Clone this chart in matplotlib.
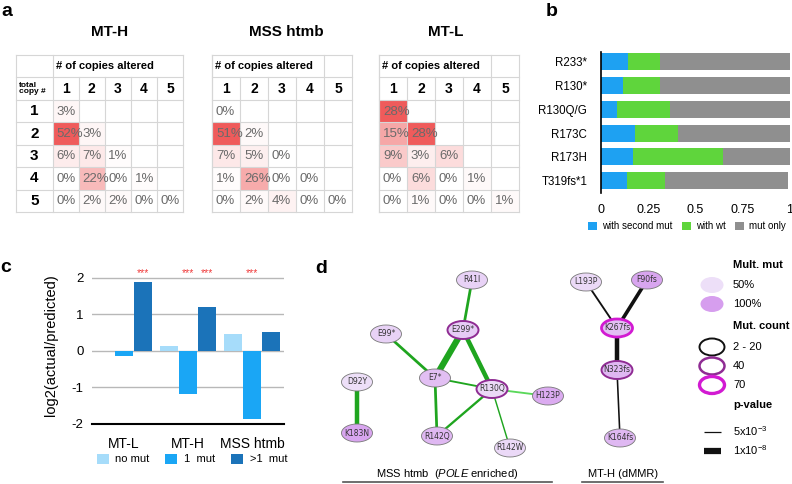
import matplotlib.pyplot as plt
import numpy as np
from matplotlib import colors
from matplotlib.patches import Ellipse, Rectangle

plt.rcParams["font.family"] = ["Liberation Sans", "DejaVu Sans"]
plt.rcParams["mathtext.fontset"] = "custom"
plt.rcParams["mathtext.rm"] = "Liberation Sans"
plt.rcParams["mathtext.it"] = "Liberation Sans:italic"
plt.rcParams["mathtext.bf"] = "Liberation Sans:bold"

W, H = 792, 484

# ---- panel a: % of mutations by copies altered / total copy number
copy_numbers = ["1", "2", "3", "4", "5"]
copies_mt_h = [[3], [52, 3], [6, 7, 1], [0, 22, 0, 1], [0, 2, 2, 0, 0]]
copies_mss = [[0], [51, 2], [7, 5, 0], [1, 26, 0, 0], [0, 2, 4, 0, 0]]
copies_mt_l = [[28], [15, 28], [9, 3, 6], [0, 6, 0, 1], [0, 1, 0, 0, 1]]

# ---- panel b: mutation context fractions
mutations = ["R233*", "R130*", "R130Q/G", "R173C", "R173H", "T319fs*1"]
with_second_mut = [0.145, 0.118, 0.083, 0.180, 0.171, 0.136]
with_wt = [0.167, 0.194, 0.282, 0.229, 0.476, 0.203]
mut_only = [0.688, 0.688, 0.635, 0.591, 0.353, 0.651]

# ---- panel c: log2(actual/predicted)
groups = ["MT-L", "MT-H", "MSS htmb"]
no_mut = [0.0, 0.15, 0.47]
one_mut = [-0.15, -1.17, -1.85]
multi_mut = [1.88, 1.21, 0.53]
one_mut_sig = [False, True, True]
multi_mut_sig = [True, True, False]

# ---- panel d: co-mutation network (layout positions, mult. fraction, mutation count)
node_names = ["R41I", "E99*", "E299*", "D92Y", "E7*", "R130Q", "H123P", "K183N",
              "R142Q", "R142W", "L193P", "F90fs", "K267fs", "N323fs", "K164fs"]
node_x = [472, 386, 463, 357, 435, 492, 548, 357, 437, 510, 586, 647, 617, 617, 620]
node_y = [280, 334, 330, 382, 378, 389, 396, 433, 436, 448, 282, 280, 328, 370, 438]
node_mult = [0.6, 0.6, 0.65, 0.5, 0.75, 0.55, 0.9, 0.95, 0.8, 0.55,
             0.55, 0.95, 0.75, 0.8, 0.8]
node_count = [10, 10, 40, 5, 15, 45, 10, 10, 15, 10, 10, 15, 70, 40, 10]
edge_a = ["R41I", "E299*", "E299*", "E99*", "E7*", "E7*", "R142Q", "R130Q", "R130Q",
          "D92Y", "L193P", "F90fs", "K267fs", "N323fs"]
edge_b = ["E299*", "E7*", "R130Q", "E7*", "R130Q", "R142Q", "R130Q", "R142W", "H123P",
          "K183N", "K267fs", "K267fs", "N323fs", "K164fs"]
edge_p = [1e-4, 1e-8, 1e-6, 1e-4, 1e-3, 1e-4, 3e-4, 3e-3, 1e-3,
          1e-6, 1e-3, 1e-5, 1e-6, 2e-3]
edge_color = ["#1fa51f"] * 8 + ["#5ad85a", "#1fa51f"] + ["#111111"] * 4


def px_axes(fig, x0, y0, x1, y1):
    return fig.add_axes([x0 / W, 1 - y1 / H, (x1 - x0) / W, (y1 - y0) / H])


def draw_table(ax, values, row_labels):
    n = len(copy_numbers)
    grid = np.full((n, n), np.nan)
    for r, row in enumerate(values):
        grid[r, :len(row)] = row
    cmap = colors.LinearSegmentedColormap.from_list("cells", ["#ffffff", "#ef5b5b"])
    ax.pcolormesh(np.arange(n + 1), np.arange(n + 1), np.ma.masked_invalid(grid),
                  cmap=cmap, vmin=0, vmax=np.nanmax(grid))
    x0 = -1.4 if row_labels else 0
    ax.set_xlim(x0, n)
    ax.set_ylim(n, -2)
    ax.axis("off")

    lc = "#d6d6d6"
    for yy in range(-2, n + 1):
        ax.plot([x0, n], [yy, yy], color=lc, lw=0.8, clip_on=False)
    ax.plot([x0, x0], [-2, n], color=lc, lw=0.8, clip_on=False)
    ax.plot([0, 0], [-2, n], color=lc, lw=0.8, clip_on=False)
    ax.plot([n, n], [-2, n], color=lc, lw=0.8, clip_on=False)
    for xx in range(1, n):
        top = -2 if (xx == n - 1 and not row_labels) else -1
        ax.plot([xx, xx], [top, n], color=lc, lw=0.8, clip_on=False)

    ax.text(0.12, -1.5, "# of copies altered", ha="left", va="center",
            fontsize=8, fontweight="bold")
    for c, lab in enumerate(copy_numbers):
        ax.text(c + 0.5, -0.5, lab, ha="center", va="center", fontsize=10, fontweight="bold")
    if row_labels:
        ax.text(-1.3, -0.5, "total\ncopy #", ha="left", va="center", fontsize=6,
                fontweight="bold", linespacing=0.9)
        for r, lab in enumerate(copy_numbers):
            ax.text(-0.7, r + 0.5, lab, ha="center", va="center", fontsize=11,
                    fontweight="bold")
    for r, row in enumerate(values):
        for c, v in enumerate(row):
            t = ax.text(c + 0.14, r + 0.52, f"{v}%", ha="left", va="center",
                        fontsize=9.5, color="#6a6a6a")
            t.set_clip_path(Rectangle((c, r), 1, 1, transform=ax.transData))


def count_style(count):
    if count >= 60:
        return "#d21ad2", 2.0
    if count >= 30:
        return "#8f2c93", 1.4
    return "#777777", 0.6


def p_width(p):
    return 0.9 + (-np.log10(p) - 2.3) / (8 - 2.3) * 3.6


def main() -> None:
    fig = plt.figure(figsize=(W / 100, H / 100), dpi=100)

    def ftext(x, y, s, **kw):
        fig.text(x / W, 1 - y / H, s, **kw)

    # panel letters
    for lab, x, y in [("a", 1, 16), ("b", 546, 16), ("c", 0, 272), ("d", 315, 273)]:
        ftext(x, y, lab, fontsize=14, fontweight="bold", va="baseline")

    # ---- a
    tables = [(copies_mt_h, "MT-H", (16, 183), 110, True),
              (copies_mss, "MSS htmb", (212, 352), 286, False),
              (copies_mt_l, "MT-L", (379, 519), 446, False)]
    for values, title, (x0, x1), tx, lab in tables:
        ax = px_axes(fig, x0, 55, x1, 212)
        draw_table(ax, values, lab)
        ftext(tx, 36, title, fontsize=11, fontweight="bold", ha="center", va="baseline")

    # ---- b
    ax_b = px_axes(fig, 601, 52, 790, 193)
    yb = np.arange(len(mutations))
    left = np.zeros(len(mutations))
    for vals, color, label in [(with_second_mut, "#1ea1f2", "with second mut"),
                               (with_wt, "#5fd53c", "with wt"),
                               (mut_only, "#8f8f8f", "mut only")]:
        ax_b.barh(yb, vals, left=left, height=0.72, color=color, label=label)
        left += np.array(vals)
    ax_b.set_xlim(0, 1)
    ax_b.set_ylim(5.53, -0.42)
    ax_b.set_yticks(yb)
    ax_b.set_yticklabels(mutations, fontsize=8.3)
    ax_b.set_xticks([0, 0.25, 0.5, 0.75, 1])
    ax_b.set_xticklabels(["0", "0.25", "0.5", "0.75", "1"], fontsize=9)
    ax_b.tick_params(length=0)
    ax_b.tick_params(axis="y", pad=10)
    ax_b.tick_params(axis="x", pad=8)
    for s in ["top", "right", "bottom"]:
        ax_b.spines[s].set_visible(False)
    ax_b.spines["left"].set_linewidth(1.2)
    ax_b.legend(ncol=3, loc="upper center", bbox_to_anchor=(0.455, -0.2), frameon=False,
                fontsize=7, handlelength=0.9, handleheight=0.8, handletextpad=0.5,
                columnspacing=1.0, borderaxespad=0, borderpad=0)

    # ---- c
    ax_c = px_axes(fig, 92, 267, 284, 424)
    xc = np.arange(len(groups))
    off, bw = 0.297, 0.28
    ax_c.bar(xc - off, no_mut, width=bw, color="#a6dcfa", label="no mut")
    ax_c.bar(xc, one_mut, width=bw, color="#1aa6f5", label="1  mut")
    ax_c.bar(xc + off, multi_mut, width=bw, color="#1b73b9", label=">1  mut")
    for i in range(len(groups)):
        if one_mut_sig[i]:
            ax_c.text(xc[i], 2.13, "***", color="#f03c3c", fontsize=7.5, ha="center",
                      va="center")
        if multi_mut_sig[i]:
            ax_c.text(xc[i] + off, 2.13, "***", color="#f03c3c", fontsize=7.5, ha="center",
                      va="center")
    ax_c.set_xlim(-0.5, 2.5)
    ax_c.set_ylim(-2, 2.3)
    ax_c.set_yticks([-2, -1, 0, 1, 2])
    ax_c.set_yticklabels(["-2", "-1", "0", "1", "2"], fontsize=9.5)
    ax_c.set_xticks(xc)
    ax_c.set_xticklabels(groups, fontsize=10)
    ax_c.tick_params(length=0)
    ax_c.tick_params(axis="x", pad=9)
    ax_c.tick_params(axis="y", pad=6)
    ax_c.yaxis.grid(True, color="#b8b8b8", lw=1)
    ax_c.set_axisbelow(True)
    for s in ["top", "right", "left"]:
        ax_c.spines[s].set_visible(False)
    ax_c.spines["bottom"].set_linewidth(1.5)
    ax_c.set_ylabel("log2(actual/predicted)", fontsize=10.5, labelpad=10)
    ax_c.legend(ncol=3, loc="upper center", bbox_to_anchor=(0.52, -0.16), frameon=False,
                fontsize=8, handlelength=1.1, handleheight=1.0, handletextpad=0.6,
                columnspacing=1.4, borderaxespad=0)

    # ---- d
    ax_d = px_axes(fig, 300, 245, 792, 484)
    ax_d.set_xlim(300, 792)
    ax_d.set_ylim(484, 245)
    ax_d.axis("off")
    light, dark = np.array(colors.to_rgb("#eddff8")), np.array(colors.to_rgb("#d69eee"))

    def mult_color(m):
        t = (m - 0.5) / 0.5
        return tuple(light + (dark - light) * t)

    pos = {n: (x, y) for n, x, y in zip(node_names, node_x, node_y)}
    for a, b, p, col in zip(edge_a, edge_b, edge_p, edge_color):
        ax_d.plot([pos[a][0], pos[b][0]], [pos[a][1], pos[b][1]], color=col,
                  lw=p_width(p), solid_capstyle="butt", zorder=1)
    for n, x, y, m, cnt in zip(node_names, node_x, node_y, node_mult, node_count):
        ec, lw = count_style(cnt)
        ax_d.add_patch(Ellipse((x, y), 31, 18, facecolor=mult_color(m), edgecolor=ec,
                               lw=lw, zorder=2))
        ax_d.text(x, y, n, ha="center", va="center", fontsize=5.5, color="#333333",
                  family="DejaVu Sans", zorder=3)

    # group labels
    ax_d.text(447, 474, "MSS htmb  ($\\mathit{POLE}$ enriched)", ha="center", va="center",
              fontsize=8)
    ax_d.plot([343, 552], [482, 482], color="#555555", lw=1.2)
    ax_d.text(623, 474, "MT-H (dMMR)", ha="center", va="center", fontsize=8)
    ax_d.plot([582, 663], [482, 482], color="#555555", lw=1.2)

    # legend
    tx = 733
    ax_d.text(tx, 265, "Mult. mut", fontsize=8, fontweight="bold", va="center")
    for m, y, lab in [(0.5, 285, "50%"), (1.0, 304, "100%")]:
        ax_d.add_patch(Ellipse((712, y), 23, 16, facecolor=mult_color(m), edgecolor="none"))
        ax_d.text(tx, y, lab, fontsize=8, va="center")
    ax_d.text(tx, 326, "Mut. count", fontsize=8, fontweight="bold", va="center")
    for cnt, y, lab in [(10, 347, "2 - 20"), (40, 366, "40"), (70, 385, "70")]:
        ec, lw = count_style(cnt)
        if cnt < 30:
            ec, lw = "#111111", 1.0
        ax_d.add_patch(Ellipse((712, y), 25, 17, facecolor="none", edgecolor=ec, lw=lw + 0.4))
        ax_d.text(tx, y, lab, fontsize=8, va="center")
    ax_d.text(tx, 405, "p-value", fontsize=8, fontweight="bold", va="center")
    for p, y, lab in [(5e-3, 432, "5x10$^{-3}$"), (1e-8, 451, "1x10$^{-8}$")]:
        ax_d.plot([704, 721], [y, y], color="#111111", lw=p_width(p), solid_capstyle="butt")
        ax_d.text(tx, y - 1, lab, fontsize=8, va="center")

    fig.savefig("out.png", dpi=100)
    plt.close(fig)


if __name__ == "__main__":
    main()
